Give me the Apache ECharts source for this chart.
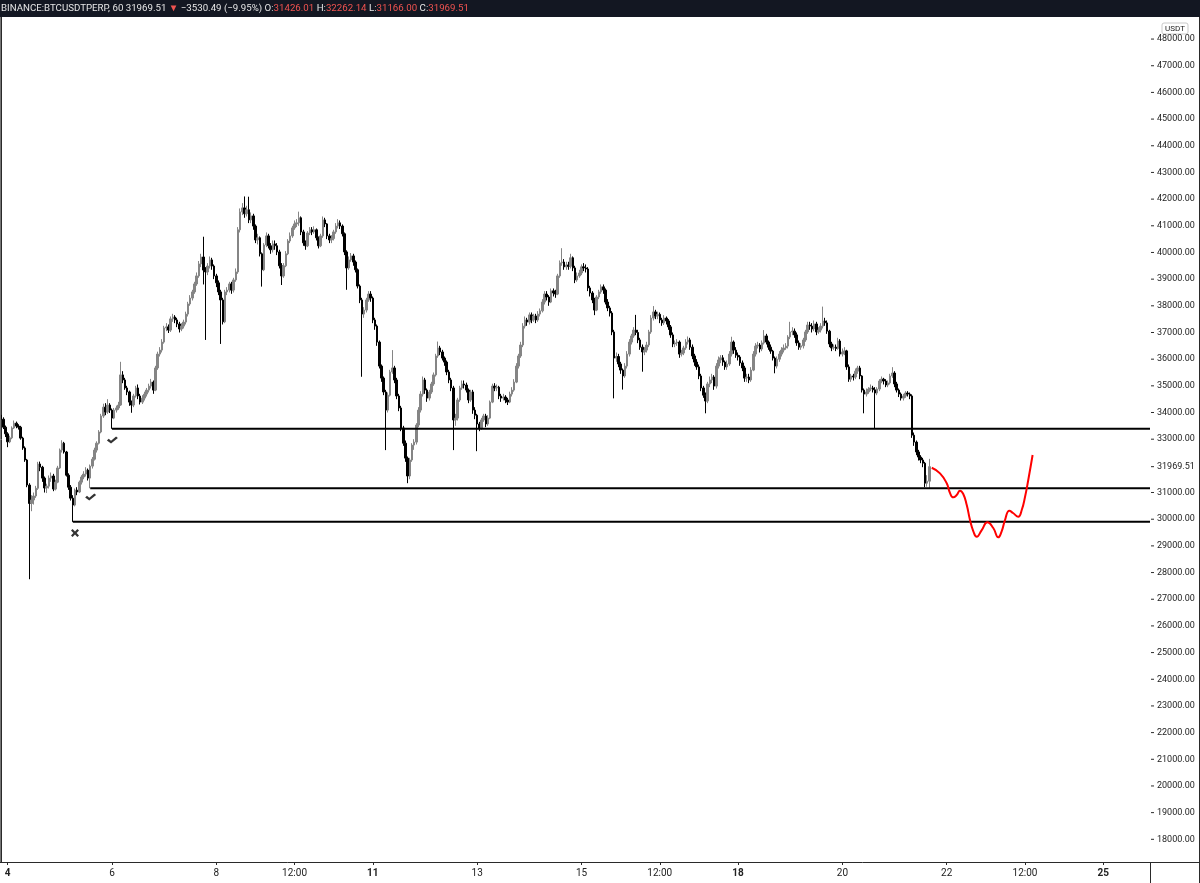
<!DOCTYPE html>
<html>
<head>
<meta charset="utf-8">
<script src="https://cdn.jsdelivr.net/npm/echarts@6/dist/echarts.min.js"></script>
<style>
html,body{margin:0;padding:0;background:#fff;}
#chart{width:1200px;height:883px;}
</style>
</head>
<body>
<div id="chart"></div>
<script>
// ---- hourly candles [open, close, low, high], BTCUSDTPERP 60 ----
const d03 = [[33900,33750,33640,34010],[33750,33450,33380,33820],[33450,33200,33080,33510]];
const d04 = [[33200,32900,32700,33260],[32900,33050,32850,33130],[33050,33420,33000,33480],[33420,33600,33380,33700],[33600,33490,33410,33660],[33490,33450,33360,33560],[33450,33040,32980,33500],[33040,32670,32600,33090],[32670,32220,32150,32730],[32220,31280,31200,32260],[31280,30590,27750,31350],[30590,30720,30300,30900],[30720,30870,30550,31000],[30870,31160,30800,31250],[31160,32070,31100,32150],[32070,31950,31800,32160],[31950,31540,31400,32000],[31540,31170,31000,31600],[31170,31240,30980,31330],[31240,31540,31150,31640],[31540,31620,31400,31750],[31620,31130,31050,31700],[31130,31390,31080,31480],[31390,31920,31350,32000]];
const d05 = [[31920,32590,31880,32650],[32590,32850,32500,32960],[32850,32520,32460,32900],[32520,31650,31600,32560],[31650,31200,31100,31720],[31200,30790,30700,31280],[30790,30530,29900,30900],[30530,31090,30480,31150],[31090,31020,30900,31200],[31020,31390,30980,31450],[31390,31580,31300,31650],[31580,31690,31500,31800],[31690,31840,31600,31950],[31840,31540,31450,31900],[31540,31990,31160,32050],[31990,32250,31900,32330],[32250,32590,32200,32680],[32590,32850,32500,32920],[32850,33270,32800,33340],[33270,33870,33220,33950],[33870,34200,33800,34330],[34200,34020,33900,34350],[34020,34280,33950,34500],[34280,34090,33980,34350]];
const d06 = [[34090,33790,33390,34150],[33790,34090,33750,34170],[34090,34170,34000,34260],[34170,34280,34100,34400],[34280,35410,34250,35900],[35410,35220,35100,35550],[35220,34920,34850,35300],[34920,34770,34650,35000],[34770,34390,34250,34820],[34390,34280,33990,34450],[34280,34620,34200,34700],[34620,34920,34560,35000],[34920,34620,34500,35050],[34620,34390,34300,34700],[34390,34540,34320,34650],[34540,34690,34450,34780],[34690,34840,34600,34920],[34840,34990,34750,35080],[34990,35140,34900,35260],[35140,34840,34700,35200],[34840,35670,34800,35750],[35670,36190,35600,36280],[36190,36340,36100,36450],[36340,36640,36250,36750]];
const d07 = [[36640,37170,36580,37250],[37170,37210,37050,37350],[37210,37090,36980,37300],[37090,37510,37020,37600],[37510,37580,37400,37700],[37580,37470,37350,37650],[37470,37320,37200,37550],[37320,37130,37000,37400],[37130,37240,37050,37350],[37240,37390,37150,37480],[37390,37690,37300,37780],[37690,38070,37600,38150],[38070,38290,38000,38400],[38290,38520,38200,38600],[38520,38820,38450,38900],[38820,39120,38750,39250],[39120,39570,39050,39680],[39570,39830,39450,39950],[39830,39340,38800,40590],[39340,39270,36720,39450],[39270,39490,39150,39600],[39490,39720,39400,39850],[39720,39490,39350,39800],[39490,39120,39000,39550]];
const d08 = [[39120,38860,38700,39200],[38860,38520,38400,38950],[38520,38220,36570,38600],[38220,37400,37300,38300],[37400,38520,37350,38600],[38520,38590,38400,38700],[38590,38820,38500,38900],[38820,38590,38450,38900],[38590,38970,38500,39050],[38970,39270,38900,39400],[39270,40850,39200,40950],[40850,41520,40750,41650],[41520,41670,41400,41850],[41670,41450,41300,42100],[41450,41600,41350,41750],[41600,41220,41100,42090],[41220,41370,41100,41500],[41370,40990,40850,41450],[40990,40470,40350,41050],[40470,40550,40300,40700],[40550,39950,39850,40600],[39950,39350,38720,40000],[39350,40280,39300,40350],[40280,40620,40200,40750]];
const d09 = [[40620,40250,40150,40700],[40250,40100,39950,40350],[40100,40320,40000,40450],[40320,40250,40100,40450],[40250,40020,39900,40350],[40020,39500,39400,40100],[39500,39120,38780,39600],[39120,39500,39050,39600],[39500,39950,39450,40050],[39950,40430,39900,40500],[40430,40620,40350,40750],[40620,40920,40550,41000],[40920,41070,40850,41200],[41070,41110,40950,41250],[41110,41300,41000,41530],[41300,40770,40650,41350],[40770,40360,40250,40850],[40360,40250,40100,40450],[40250,40730,40200,40800],[40730,40850,40650,40950],[40850,40770,40650,40950],[40770,40850,40700,40980],[40850,40550,40450,40900],[40550,40250,40150,40600]];
const d10 = [[40250,40620,40200,40700],[40620,41220,40550,41350],[41220,41070,40950,41300],[41070,40620,40500,41100],[40620,40470,40350,40700],[40470,40520,40350,40650],[40520,40770,40450,40850],[40770,40990,40700,41100],[40990,41110,40900,41250],[41110,40990,40880,41200],[40990,40700,40600,41050],[40700,40020,39900,40750],[40020,39420,38600,40080],[39420,39720,39350,39850],[39720,39870,39650,39980],[39870,39640,39500,39950],[39640,39350,39250,39700],[39350,38740,38650,39400],[38740,38220,38100,38800],[38220,37690,35340,38300],[37690,37840,37550,37950],[37840,38220,37750,38300],[38220,38440,38150,38550],[38440,38290,38150,38550]];
const d11 = [[38290,37470,37350,38350],[37470,37240,37100,37550],[37240,36640,36500,37300],[36640,35740,35650,36700],[35740,35290,35150,35800],[35290,34770,34650,35350],[34770,34090,32590,34850],[34090,34650,34000,34750],[34650,35520,34600,35600],[35520,35670,35450,36340],[35670,35220,35100,35750],[35220,34620,34500,35300],[34620,34170,34050,34700],[34170,33420,33300,34250],[33420,32850,32750,33500],[32850,32290,32150,32950],[32290,31620,31350,32350],[31620,32220,31500,32300],[32220,32780,32150,32850],[32780,32890,32600,33000],[32890,33530,32800,33600],[33530,34090,33450,34200],[34090,34690,34000,34800],[34690,35220,34600,35350]];
const d12 = [[35220,34840,34700,35300],[34840,34540,34400,34900],[34540,34770,34450,34850],[34770,35070,34700,35150],[35070,35410,35000,35500],[35410,36120,35350,36200],[36120,36420,36050,36660],[36420,36270,36150,36500],[36270,36040,35950,36350],[36040,35890,35750,36100],[35890,35520,35400,35950],[35520,35220,35100,35600],[35220,34920,34800,35300],[34920,33720,32590,35000],[33720,33790,33500,33950],[33790,34470,33700,34550],[34470,34920,34400,35000],[34920,35070,34850,35200],[35070,35030,34900,35200],[35030,34840,34750,35120],[34840,34470,34350,34900],[34470,34770,34400,34850],[34770,34090,33950,34850],[34090,33900,33750,34200]];
const d13 = [[33900,33570,32550,33950],[33570,33420,33300,33650],[33420,33720,33350,33800],[33720,33870,33650,33950],[33870,33570,33450,33950],[33570,33790,33500,33900],[33790,34390,33750,34450],[34390,34990,34350,35080],[34990,34920,34800,35100],[34920,34950,34800,35050],[34950,34620,34500,35000],[34620,34540,34400,34700],[34540,34580,34450,34700],[34580,34470,34350,34650],[34470,34390,34280,34550],[34390,34690,34350,34780],[34690,34840,34600,34950],[34840,35140,34780,35250],[35140,35740,35100,35850],[35740,36120,35650,36200],[36120,36530,36050,36650],[36530,37240,36450,37350],[37240,37470,37150,37600],[37470,37390,37250,37550]];
const d14 = [[37390,37660,37300,37750],[37660,37470,37350,37750],[37470,37620,37400,37700],[37620,37470,37350,37700],[37470,37690,37400,37800],[37690,37810,37600,37900],[37810,38140,37750,38250],[38140,38440,38050,38550],[38440,38330,38200,38550],[38330,38140,38000,38400],[38140,38560,38100,38650],[38560,38480,38350,38650],[38480,38440,38300,38600],[38440,39120,38400,39200],[39120,39610,39050,39700],[39610,39640,39500,40160],[39640,39460,39350,39750],[39460,39530,39350,39650],[39530,39480,39350,39650],[39480,39800,39400,39950],[39800,39420,39300,39850],[39420,38970,38850,39500],[38970,39120,38900,39250],[39120,39230,39050,39350]];
const d15 = [[39230,39460,39150,39550],[39460,39420,39300,39600],[39420,39380,39250,39550],[39380,38670,38550,39450],[38670,38480,38350,38750],[38480,38220,38100,38550],[38220,37840,37650,38300],[37840,38330,37800,38400],[38330,38520,38250,38600],[38520,38710,38450,38800],[38710,38590,38450,38800],[38590,38140,38050,38650],[38140,37920,37800,38250],[37920,37730,37600,38000],[37730,37020,36900,37800],[37020,36040,34530,37100],[36040,36100,35900,36250],[36100,35820,35700,36200],[35820,35590,35450,35900],[35590,35370,34860,35650],[35370,35740,35300,35850],[35740,36190,35650,36300],[36190,36640,36100,36750],[36640,36870,36550,36950]];
const d16 = [[36870,37090,36800,37200],[37090,37000,36900,37660],[37000,36720,36600,37100],[36720,36450,36350,36800],[36450,36270,35530,36550],[36270,36340,36150,36450],[36340,36530,36250,36650],[36530,37020,36450,37100],[37020,37540,36950,37650],[37540,37770,37450,37990],[37770,37620,37500,37850],[37620,37680,37500,37780],[37680,37470,37350,37750],[37470,37360,37250,37550],[37360,37540,37280,37650],[37540,37430,37300,37600],[37430,37210,37100,37500],[37210,36910,36800,37280],[36910,36570,36450,37000],[36570,36610,36450,36700],[36610,36640,36500,36750],[36640,36190,36050,36700],[36190,36230,36100,36350],[36230,36420,36150,36500]];
const d17 = [[36420,36640,36350,36750],[36640,36720,36550,36850],[36720,36450,36350,36800],[36450,36120,36000,36550],[36120,35890,35750,36200],[35890,35710,35600,36000],[35710,35370,35250,35800],[35370,34920,34800,35450],[34920,34650,34550,35000],[34650,34430,33970,34750],[34430,35070,34350,35150],[35070,35220,34950,35350],[35220,35330,35100,35450],[35330,34990,34850,35400],[34990,35740,34900,35850],[35740,35970,35650,36100],[35970,36050,35850,36150],[36050,35890,35750,36150],[35890,35710,35600,35950],[35710,35820,35600,35950],[35820,36190,35750,36300],[36190,36640,36100,36840],[36640,36340,36200,36700],[36340,36150,36050,36450]];
const d18 = [[36150,36080,35950,36250],[36080,35860,35750,36150],[35860,35670,35550,35950],[35670,35290,35150,35750],[35290,35330,35150,35450],[35330,35220,35100,35450],[35220,35590,35150,35700],[35590,36190,35550,36300],[36190,36490,36100,36600],[36490,36530,36400,36650],[36530,36380,36250,36600],[36380,36610,36300,36700],[36610,36870,36550,37090],[36870,36640,36550,36950],[36640,36450,36350,36700],[36450,36300,36200,36550],[36300,36040,35950,36350],[36040,35740,35470,36100],[35740,36000,35650,36100],[36000,36190,35900,36300],[36190,36340,36100,36450],[36340,36420,36250,36550],[36420,36490,36350,36600],[36490,36830,36400,36900]];
const d19 = [[36830,37020,36750,37400],[37020,37050,36900,37200],[37050,36910,36800,37150],[36910,36610,36500,37000],[36610,36450,36350,36700],[36450,36500,36350,36600],[36500,36720,36400,36800],[36720,37020,36650,37100],[37020,37280,36950,37400],[37280,37240,37100,37400],[37240,37130,37000,37350],[37130,37320,37050,37450],[37320,37020,36900,37400],[37020,37090,36950,37200],[37090,37240,37000,37350],[37240,37430,37150,37970],[37430,37360,37250,37550],[37360,37050,36950,37450],[37050,36570,36450,37100],[36570,36420,36300,36650],[36420,36450,36350,36550],[36450,36400,36300,36550],[36400,36680,36350,36800],[36680,36190,36100,36750]];
const d20 = [[36190,36270,36100,36400],[36270,36310,36150,36450],[36310,35710,35600,36350],[35710,35250,35150,35800],[35250,35370,35150,35450],[35370,35330,35200,35450],[35330,35550,35250,35650],[35550,35670,35450,35750],[35670,35370,35250,35750],[35370,34840,34750,35400],[34840,34690,33970,34900],[34690,34770,34600,34900],[34770,34880,34700,34950],[34880,34920,34800,35050],[34920,34850,34750,35000],[34850,34730,33400,34950],[34730,34880,34650,34950],[34880,35180,34800,35250],[35180,35250,35100,35350],[35250,35180,35050,35300],[35180,35030,34950,35250],[35030,35110,34950,35200],[35110,35370,35050,35450],[35370,35480,35300,35700]];
const d21 = [[35480,35070,34950,35550],[35070,34840,34750,35150],[34840,34690,34580,34900],[34690,34540,34450,34750],[34540,34620,34450,34700],[34620,34730,34550,34800],[34730,34690,34600,34800],[34690,34620,34500,34750],[34620,33150,33050,34680],[33150,32890,32750,33250],[32890,32520,32400,32950],[32520,32330,32200,32600],[32330,32220,32100,32400],[32220,32100,31950,32300],[32100,31350,31200,32150],[31350,31426.01,31220,31650],[31426.01,31969.51,31166.00,32262.14]];

// ---- time axis: hourly slots from 2021-06-03 21:00 to 2021-06-25 21:00 ----
const firstSlotUTC = [2021, 5, 3, 21];
const slotCount = 529;
const xTickLabels = [
  ['06-04 00:00', '4', true], ['06-06 00:00', '6'], ['06-08 00:00', '8'], ['06-09 12:00', '12:00'],
  ['06-11 00:00', '11', true], ['06-13 00:00', '13'], ['06-15 00:00', '15'], ['06-16 12:00', '12:00'],
  ['06-18 00:00', '18', true], ['06-20 00:00', '20'], ['06-22 00:00', '22'], ['06-23 12:00', '12:00'],
  ['06-25 00:00', '25', true]
];
const yTickLabels = [18000,19000,20000,21000,22000,23000,24000,25000,26000,27000,28000,29000,30000,31000,33000,34000,35000,36000,37000,38000,39000,40000,41000,42000,43000,44000,45000,46000,47000,48000];
const lastPrice = 31969.51;
const yMin = 17149, yMax = 48827;

// ---- drawn levels (start slot index, price) ----
const levelStarts = [51, 41, 33];
const levelPrices = [33390, 31160, 29900];

// ---- hand-drawn red projection (slot index, price) ----
const projection = [[428.1,31930],[431.9,31720],[435.0,31345],[436.5,30981],[438.0,30820],[439.6,30906],[441.1,31067],[442.6,30944],[444.2,30532],[445.7,29969],[447.2,29557],[448.8,29343],[451.1,29594],[453.7,29883],[456.4,29669],[458.7,29320],[460.3,29557],[461.8,29969],[463.8,30318],[465.5,30232],[467.9,30093],[469.5,30344],[471.0,30832],[472.5,31470],[474.5,32406]];

// ---- marks drawn on the chart (slot index, price, kind) ----
const marks = [[51.2, 32968, 'check'], [41.2, 30831, 'check'], [34.0, 29482, 'cross']];

const headerSymbol = 'BINANCE:BTCUSDTPERP, 60';
const headerLast = '31969.51';
const headerChange = '\u22123530.49 (\u22129.95%)';
const headerOHLC = ['31426.01', '32262.14', '31166.00', '31969.51'];

// ------------------------------------------------------------------
const candles = [].concat(d03,d04,d05,d06,d07,d08,d09,d10,d11,d12,d13,d14,d15,d16,d17,d18,d19,d20,d21);
const pad = n => (n < 10 ? '0' : '') + n;
const categories = [];
const t0 = Date.UTC(firstSlotUTC[0], firstSlotUTC[1], firstSlotUTC[2], firstSlotUTC[3]);
for (let i = 0; i < slotCount; i++) {
  const d = new Date(t0 + i * 3600000);
  categories.push(pad(d.getUTCMonth() + 1) + '-' + pad(d.getUTCDate()) + ' ' + pad(d.getUTCHours()) + ':00');
}
const tickMap = {};
xTickLabels.forEach(t => { tickMap[t[0]] = t; });
const showTick = (idx, val) => !!tickMap[categories[idx]];

const SYMBOLS = {
  check: {symbol: 'path://M0,5 L2,3 L4.5,5.5 L10,0 L12,2 L4.5,9 Z', size: [11, 7]},
  cross: {symbol: 'path://M0,2 L2,0 L5,3 L8,0 L10,2 L7,5 L10,8 L8,10 L5,7 L2,10 L0,8 L3,5 Z', size: [8, 8]}
};

const FONT = 'Roboto, "Liberation Sans", Arial, sans-serif';
const chart = echarts.init(document.getElementById('chart'), null, {renderer: 'canvas'});

const levelSeries = levelPrices.map((p, k) => ({
  type: 'line', xAxisIndex: 1, yAxisIndex: 0, symbol: 'none', silent: true, z: 3,
  lineStyle: {color: '#000', width: 2},
  data: [[levelStarts[k], p], [slotCount - 0.5, p]]
}));

chart.setOption({
  animation: false,
  backgroundColor: '#ffffff',
  grid: {left: 0, right: 50, top: 17, bottom: 21, containLabel: false},
  xAxis: [
    {
      type: 'category', data: categories, boundaryGap: true,
      axisLine: {show: true, lineStyle: {color: '#2a2a2a', width: 1}},
      axisTick: {show: true, alignWithLabel: true, interval: showTick, length: 3, lineStyle: {color: '#2a2a2a'}},
      axisLabel: {
        interval: showTick, margin: 6, color: '#222', fontSize: 10, fontFamily: FONT,
        formatter: v => { const t = tickMap[v]; if (!t) return ''; return t[2] ? '{b|' + t[1] + '}' : t[1]; },
        rich: {b: {fontWeight: 'bold', fontSize: 10, fontFamily: FONT, color: '#222'}}
      },
      splitLine: {show: false}
    },
    {type: 'value', min: -0.5, max: slotCount - 0.5, show: false}
  ],
  yAxis: [{
    type: 'value', position: 'right', min: yMin, max: yMax, scale: true,
    axisLine: {show: true, lineStyle: {color: '#2a2a2a', width: 1}},
    axisTick: {show: false},
    axisLabel: {margin: 1, color: '#222', fontSize: 9, fontFamily: FONT,
      customValues: yTickLabels.concat([lastPrice]),
      formatter: v => '{t|}{n|' + v.toFixed(2) + '}',
      rich: {
        t: {width: 3, height: 1, backgroundColor: '#2a2a2a'},
        n: {padding: [0, 0, 0, 3], fontSize: 9, fontFamily: FONT, color: '#222'}
      }},
    splitLine: {show: false}
  }],
  series: [
    {
      type: 'candlestick', xAxisIndex: 0, yAxisIndex: 0, data: candles, z: 2,
      barWidth: 2,
      itemStyle: {color: '#858585', borderColor: '#858585', color0: '#000000', borderColor0: '#000000', borderWidth: 1}
    },
    ...levelSeries,
    {
      type: 'line', xAxisIndex: 1, yAxisIndex: 0, data: projection, smooth: 0.5, symbol: 'none', z: 4,
      lineStyle: {color: '#ff0000', width: 2}
    },
    {
      type: 'scatter', xAxisIndex: 1, yAxisIndex: 0, z: 5,
      itemStyle: {color: '#000'},
      data: marks.map(m => ({value: [m[0], m[1]], symbol: SYMBOLS[m[2]].symbol, symbolSize: SYMBOLS[m[2]].size}))
    }
  ],
  graphic: [
    {type: 'rect', left: 0, top: 0, z: 100, shape: {width: 1200, height: 17}, style: {fill: '#131722'}},
    {type: 'text', x: 1, y: 9, z: 101, style: {
      text: '{w|' + headerSymbol + ' ' + headerLast + ' }{r|\u25BC}{w| ' + headerChange + ' O:}{r|' + headerOHLC[0] + '}{w| H:}{r|' + headerOHLC[1] + '}{w| L:}{r|' + headerOHLC[2] + '}{w| C:}{r|' + headerOHLC[3] + '}',
      verticalAlign: 'middle', font: '9.7px ' + FONT,
      rich: {w: {fill: '#e6e6e6', fontSize: 9.7, fontFamily: FONT}, r: {fill: '#ef5350', fontSize: 9.7, fontFamily: FONT}}
    }},
    {type: 'line', z: 50, shape: {x1: 0.5, y1: 17, x2: 0.5, y2: 862}, style: {stroke: '#777', lineWidth: 1}},
    {type: 'line', z: 50, shape: {x1: 1150.5, y1: 862, x2: 1150.5, y2: 883}, style: {stroke: '#2a2a2a', lineWidth: 1}},
    {type: 'line', z: 50, shape: {x1: 1150, y1: 862.5, x2: 1200, y2: 862.5}, style: {stroke: '#2a2a2a', lineWidth: 1}},
    {type: 'line', z: 50, shape: {x1: 1199.5, y1: 17, x2: 1199.5, y2: 883}, style: {stroke: '#2a2a2a', lineWidth: 1}},
    {type: 'group', x: 1162, y: 23, z: 60, children: [
      {type: 'rect', shape: {x: 0, y: 0, width: 26, height: 11, r: 2}, style: {fill: '#fff', stroke: '#c9c9c9', lineWidth: 1}},
      {type: 'text', x: 13, y: 5.5, style: {text: 'USDT', align: 'center', verticalAlign: 'middle', font: '8px ' + FONT, fill: '#222'}}
    ]}
  ]
});
</script>
</body>
</html>
